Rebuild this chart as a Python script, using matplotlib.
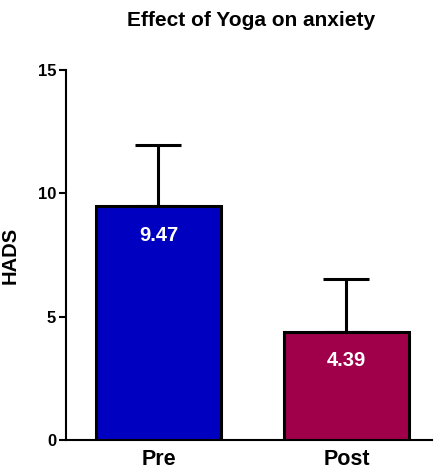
import matplotlib
matplotlib.use("Agg")
from matplotlib import pyplot as plt

# HADS scores before and after the yoga programme
groups = ["Pre", "Post"]
means = [9.47, 4.39]
sds = [2.50, 2.14]
colors = ["#0000C0", "#A0004A"]
yticks = [0, 5, 10, 15]

plt.rcParams["font.family"] = ["Liberation Sans", "DejaVu Sans"]
plt.rcParams["font.weight"] = "bold"

fig = plt.figure(figsize=(4.37, 4.70), dpi=100)
ax = fig.add_axes([0.151, 0.0638, 0.8376, 0.7872])

xs = list(range(len(groups)))
ax.bar(xs, means, width=0.665, color=colors, edgecolor="black",
       linewidth=2.2, zorder=3)
ax.errorbar(xs, means, yerr=[[0] * len(sds), sds], fmt="none",
            ecolor="black", elinewidth=2.2, capsize=16.5, capthick=2.2,
            zorder=2)

for x, m in zip(xs, means):
    ax.text(x, m - 1.17, f"{m:.2f}", ha="center", va="center",
            color="white", fontsize=14.5, fontweight="bold", zorder=4)

ax.set_xlim(-0.492, 1.455)
ax.set_ylim(0, 15)
ax.set_xticks(xs)
ax.set_xticklabels(groups, fontsize=15.5, fontweight="bold")
ax.set_yticks(yticks)
ax.set_yticklabels([str(t) for t in yticks], fontsize=12, fontweight="bold")
ax.tick_params(axis="x", length=0, pad=6.5)
ax.tick_params(axis="y", length=5, width=1.5, pad=2)

for side in ("top", "right"):
    ax.spines[side].set_visible(False)
for side in ("left", "bottom"):
    ax.spines[side].set_linewidth(1.5)

ax.set_ylabel("HADS", fontsize=14.5, fontweight="bold")
ax.yaxis.set_label_coords(-0.126, 0.5)
fig.text(0.575, 0.957, "Effect of Yoga on anxiety", ha="center", va="center",
         fontsize=15, fontweight="bold")

fig.savefig("out.png", dpi=100)
